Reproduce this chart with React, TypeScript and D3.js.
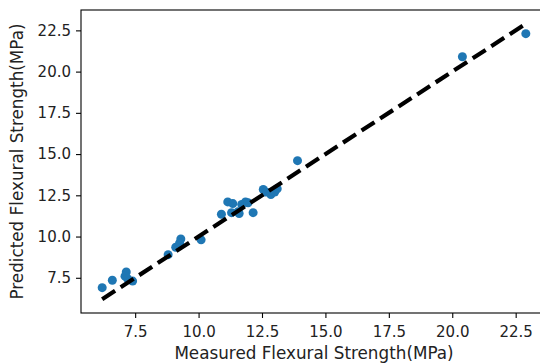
import * as React from 'react';
import * as d3 from 'd3';

const measured = [6.2, 6.6, 7.15, 7.1, 7.2, 7.4, 8.8, 9.1, 9.3, 9.25, 10.1, 10.9, 11.15, 11.35, 11.3, 11.55, 11.7, 11.85, 11.6, 12.15, 11.95, 12.55, 12.65, 12.85, 13.0, 13.1, 13.9, 20.4, 22.9];
const predicted = [6.9, 7.35, 7.85, 7.6, 7.45, 7.3, 8.9, 9.35, 9.85, 9.6, 9.8, 11.35, 12.1, 12.0, 11.45, 11.5, 11.95, 12.1, 11.4, 11.45, 12.05, 12.85, 12.7, 12.55, 12.7, 12.9, 14.6, 20.9, 22.3];
const ticks = [7.5, 10.0, 12.5, 15.0, 17.5, 20.0, 22.5];

export default function App() {
  const ref = React.useRef<SVGSVGElement>(null);

  React.useEffect(() => {
    const width = 540;
    const height = 363;
    const margin = {top: 10, right: -7, bottom: 50, left: 81};
    const w = width - margin.left - margin.right;
    const h = height - margin.top - margin.bottom;

    const svg = d3.select(ref.current);
    svg.selectAll('*').remove();
    const g = svg.append('g').attr('transform', `translate(${margin.left},${margin.top})`);

    // matplotlib style 5% margins around the data (incl. the 1:1 line)
    const ext = d3.extent(measured) as [number, number];
    const pad = (ext[1] - ext[0]) * 0.05;
    const x = d3.scaleLinear().domain([ext[0] - pad, ext[1] + pad]).range([0, w]);
    const y = d3.scaleLinear().domain([ext[0] - pad, ext[1] + pad]).range([h, 0]);

    const fmt = d3.format('.1f');
    const xAxis = g.append('g').attr('transform', `translate(0,${h})`)
      .call(d3.axisBottom(x).tickValues(ticks).tickFormat(fmt).tickSize(5).tickPadding(8));
    const yAxis = g.append('g')
      .call(d3.axisLeft(y).tickValues(ticks).tickFormat(fmt).tickSize(5).tickPadding(5));
    [xAxis, yAxis].forEach(a => {
      a.selectAll('text').attr('font-family', 'DejaVu Sans').attr('font-size', 15).attr('fill', '#222');
      a.selectAll('line').attr('stroke', '#000').attr('stroke-width', 1.1);
      a.select('.domain').remove();
    });

    // spines: left, bottom, top (right one falls outside the picture)
    g.append('rect')
      .attr('x', 0).attr('y', 0).attr('width', w).attr('height', h)
      .attr('fill', 'none').attr('stroke', '#000').attr('stroke-width', 1.1);

    g.append('g')
      .selectAll('circle')
      .data(measured)
      .enter().append('circle')
      .attr('cx', d => x(d))
      .attr('cy', (d, i) => y(predicted[i]))
      .attr('r', 4.5)
      .attr('fill', '#1f77b4');

    g.append('path')
      .datum(ext)
      .attr('d', d3.line<number>().x(d => x(d)).y(d => y(d)))
      .attr('fill', 'none')
      .attr('stroke', '#000')
      .attr('stroke-width', 4.2)
      .attr('stroke-dasharray', '15.4,6.7');

    svg.append('text')
      .attr('x', margin.left + w / 2)
      .attr('y', 359)
      .attr('text-anchor', 'middle')
      .attr('font-family', 'DejaVu Sans')
      .attr('font-size', 16.8)
      .attr('fill', '#222')
      .text('Measured Flexural Strength(MPa)');

    svg.append('text')
      .attr('transform', `translate(23,${margin.top + h / 2}) rotate(-90)`)
      .attr('text-anchor', 'middle')
      .attr('font-family', 'DejaVu Sans')
      .attr('font-size', 16.8)
      .attr('fill', '#222')
      .text('Predicted Flexural Strength(MPa)');
  }, []);

  return (
    <svg ref={ref} width={540} height={363}
      style={{position: 'absolute', left: 0, top: 0, background: '#fff'}}></svg>
  );
}
